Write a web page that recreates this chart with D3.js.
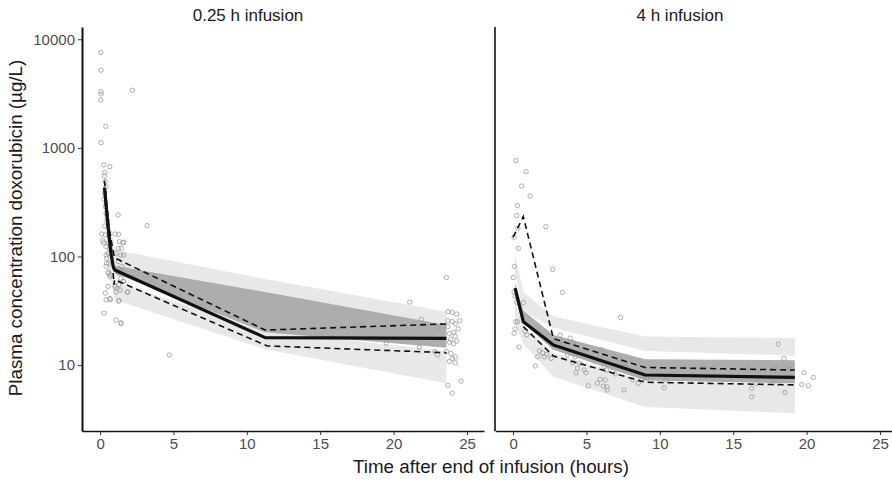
<!DOCTYPE html>
<html>
<head>
<meta charset="utf-8">
<script src="https://cdn.jsdelivr.net/npm/d3@7"></script>
<style>
  body { margin: 0; background: #fff; }
  svg { display: block; font-family: "Liberation Sans", Arial, Helvetica, sans-serif; }
</style>
</head>
<body>
<div id="chart"></div>
<script>
// Données (temps en h, concentration en µg/L)
const xTicks = [0, 5, 10, 15, 20, 25];
const yTicks = [10, 100, 1000, 10000];
const panelTitles = ["0.25 h infusion", "4 h infusion"];

// Perfusion 0.25 h : observations
const shortObs = [
  [0.05,7540],[0.07,5190],[0.06,3290],[0.07,3130],[0.05,2760],[2.2,3390],[0.39,1580],[0.07,1117],
  [0.25,697],[0.66,671],[0.32,592],[0.3,551],[0.36,489],[0.41,440],[0.32,387],[0.27,336],[0.36,288],
  [0.41,250],[0.48,217],[0.32,191],[0.36,158],[0.18,140],[0.41,123],[0.55,107],[0.45,96],[0.59,86.5],
  [0.55,72],[0.7,67.6],[1.23,241],[3.2,192],[1.27,160],[1.32,137],[1.61,135],[1.45,119],[1.61,103],
  [1.09,107],[1.38,72],[1.27,55],[1.61,59],[1.88,47],[0.55,53],[0.36,46],[0.41,40],[0.7,40],[1.27,39],
  [0.27,30],[1.09,26],[1.43,24.5],[0.11,161],[0.23,134],[0.57,132],[0.68,119],[0.8,111],[0.41,103],
  [0.45,87],[0.41,81],[0.57,70],[0.68,65],[1.02,161],[1.55,134],[1.25,119],[1.41,103],[1.25,90],
  [1.48,81],[1.27,70],[1.41,63],[1.59,59],[1.02,53],[1.14,51],[1.36,49],[1.09,47],[1.86,47],[0.68,41],
  [1.29,39],[1.41,24],[4.72,12.4],
  [23.6,64],[21.1,38],[23.7,31],[24.0,30.5],[24.3,29.5],[21.9,26.4],[17.7,23.4],[23.0,22.3],[23.7,25.6],
  [24.0,25.2],[24.5,25.6],[24.2,24],[23.7,22.6],[24.4,21.5],[24.1,20],[23.8,19.5],[24.2,18.5],[23.9,17.3],
  [24.3,16.6],[23.8,16.2],[24.1,15.7],[19.5,15.9],[21.75,14.6],[22.8,13.3],[23.0,12.4],[23.6,13.3],
  [23.9,12.8],[24.2,11.9],[24.0,11.5],[23.8,10.8],[24.2,10.5],[23.7,6.5],[24.6,7.1],[24.0,5.5]
];
// Perfusion 0.25 h : intervalles de prédiction par classe de temps
const shortBinTime = [0.3, 0.6, 1.0, 11.25, 23.6];
const shortUpperLo = [300, 110, 72, 24, 22];
const shortUpperHi = [650, 250, 115, 62, 31];
const shortMedLo   = [330, 140, 70, 20, 14.4];
const shortMedHi   = [450, 180, 82, 47, 23.4];
const shortLowerLo = [200, 70, 40, 14, 6.8];
const shortLowerHi = [280, 100, 58, 21, 13.3];
// Perfusion 0.25 h : percentiles observés
const shortMedTime = [0.3, 0.45, 0.6, 0.75, 0.9, 1.0, 11.25, 23.6];
const shortMedConc = [430, 260, 160, 105, 80, 75, 17.9, 17.6];
const shortP95Time = [0.3, 0.6, 0.9, 1.0, 11.25, 23.6];
const shortP95Conc = [500, 190, 110, 97, 21, 23.9];
const shortP05Time = [0.3, 0.6, 0.85, 0.95, 1.0, 10.9, 11.4, 23.6];
const shortP05Conc = [380, 140, 90, 55, 61, 16, 15, 13];

// Perfusion 4 h : observations
const longObs = [
  [0.18,762],[0.89,604],[0.59,445],[1.16,361],[0.3,294],[0.25,238],[2.23,188],[0.32,182],[0.07,150],
  [0.36,119],[2.7,76],[0.09,81],[0.02,64],[0.07,47],[3.36,46.8],[0.25,38],[0.14,43],[0.7,37.6],
  [7.33,27.4],[0.18,25],[0.3,25],[0.14,21.5],[0.07,19.6],[0.82,20.4],[0.93,19],[0.41,14.6],[1.52,9.8],
  [3.2,18.9],[3.88,17.7],[3.38,15.6],[4.11,16.1],[2.75,15.9],[1.8,13.5],[2.0,13],[2.3,12.6],[2.13,11.9],
  [1.68,11.9],[2.59,11.5],[3.7,12.4],[4.22,11.9],[4.07,10.5],[4.56,10.4],[4.38,9.35],[4.29,8.5],
  [4.84,9.0],[4.97,8.5],[6.04,13.8],[6.2,9.7],[6.38,9.0],[6.79,8.7],[6.95,8.3],[7.17,11.5],[7.51,10.4],
  [7.63,9.7],[5.93,7.4],[6.27,7.3],[5.74,6.8],[6.15,6.4],[6.38,6.3],[6.42,5.9],[5.13,6.45],[7.56,5.9],
  [8.15,7.3],[8.77,7.4],[9.1,7.55],[8.54,6.8],[10.29,6.2],[10.42,7.3],[12.97,9.5],[14.78,7.55],
  [16.03,9.1],[16.26,6.1],[16.26,5.1],[16.6,6.8],[18.07,15.6],[18.46,11.5],[17.85,9.4],[18.53,5.6],
  [18.87,9.1],[19.67,6.6],[19.82,8.5],[20.12,6.45],[20.46,7.7],[17.69,6.8]
];
const longBinTime = [0.14, 0.7, 2.75, 9.0, 19.2];
const longUpperLo = [70, 31, 22, 13.5, 12.2];
const longUpperHi = [103, 47, 28, 18.3, 17.7];
const longMedLo   = [42.7, 24.2, 13.8, 7.2, 6.8];
const longMedHi   = [57, 31.6, 18.9, 11.3, 11.1];
const longLowerLo = [24, 15.8, 7.8, 4.1, 3.6];
const longLowerHi = [38, 22.6, 13.0, 7.0, 6.8];
const longMedTime = [0.14, 0.7, 2.75, 9.0, 19.2];
const longMedConc = [51, 25, 15.3, 8.1, 7.7];
const longP95Time = [0.0, 0.7, 2.75, 9.0, 19.2];
const longP95Conc = [150, 233, 17.5, 9.5, 9.0];
const longP05Time = [0.7, 2.75, 9.0, 19.2];
const longP05Conc = [22.6, 12.1, 6.95, 6.56];

// Mise en page
const fullWidth = 892, fullHeight = 482;
const plotTop = 27, plotBottom = 431, panelWidth = 402;
const panelX = [82, 495];
const titleX = [248, 680];

const zip = (a, b) => a.map((v, i) => [v, b[i]]);
const band = (t, lo, hi) => t.map((v, i) => ({ t: v, lo: lo[i], hi: hi[i] }));

const panels = [
  {
    obs: shortObs,
    bands: [band(shortBinTime, shortUpperLo, shortUpperHi), band(shortBinTime, shortLowerLo, shortLowerHi)],
    medBand: band(shortBinTime, shortMedLo, shortMedHi),
    median: zip(shortMedTime, shortMedConc),
    p95: zip(shortP95Time, shortP95Conc),
    p05: zip(shortP05Time, shortP05Conc)
  },
  {
    obs: longObs,
    bands: [band(longBinTime, longUpperLo, longUpperHi), band(longBinTime, longLowerLo, longLowerHi)],
    medBand: band(longBinTime, longMedLo, longMedHi),
    median: zip(longMedTime, longMedConc),
    p95: zip(longP95Time, longP95Conc),
    p05: zip(longP05Time, longP05Conc)
  }
];

const svg = d3.select("#chart").append("svg")
  .attr("width", fullWidth)
  .attr("height", fullHeight);

const yScale = d3.scaleLog().domain([2.47, 12970]).range([plotBottom, plotTop]);

panels.forEach(function(p, i) {
  const x0 = panelX[i];
  const xScale = d3.scaleLinear().domain([-1.23, 26.16]).range([x0, x0 + panelWidth]);
  const g = svg.append("g");

  const area = d3.area()
    .x(d => xScale(d.t))
    .y0(d => yScale(d.lo))
    .y1(d => yScale(d.hi));

  p.bands.forEach(function(b) {
    g.append("path").datum(b).attr("d", area).attr("fill", "#e8e8e8");
  });
  g.append("path").datum(p.medBand).attr("d", area).attr("fill", "#adadad");

  g.selectAll("circle").data(p.obs).enter().append("circle")
    .attr("cx", d => xScale(d[0]))
    .attr("cy", d => yScale(d[1]))
    .attr("r", 2.2)
    .attr("fill", "none")
    .attr("stroke", "#9a9a9a")
    .attr("stroke-width", 0.8);

  const line = d3.line().x(d => xScale(d[0])).y(d => yScale(d[1]));
  [p.p95, p.p05].forEach(function(l) {
    g.append("path").datum(l).attr("d", line)
      .attr("fill", "none").attr("stroke", "#111")
      .attr("stroke-width", 1.6).attr("stroke-dasharray", "6,4");
  });
  g.append("path").datum(p.median).attr("d", line)
    .attr("fill", "none").attr("stroke", "#111")
    .attr("stroke-width", 3.2).attr("stroke-linejoin", "round");

  // Axe des x
  const xAxis = g.append("g")
    .attr("transform", "translate(0," + plotBottom + ")")
    .call(d3.axisBottom(xScale).tickValues(xTicks).tickSize(4).tickSizeOuter(0).tickPadding(3));
  xAxis.select(".domain").attr("stroke", "#111").attr("stroke-width", 1.6);
  xAxis.selectAll(".tick line").attr("stroke", "#333");
  xAxis.selectAll(".tick text").attr("fill", "#4d4d4d").style("font-size", "15px")
    .style("font-family", "Liberation Sans, Arial, sans-serif");

  // Axe des y
  if (i === 0) {
    const yAxis = g.append("g")
      .attr("transform", "translate(" + x0 + ",0)")
      .call(d3.axisLeft(yScale).tickValues(yTicks).tickFormat(d3.format("d")).tickSize(4).tickSizeOuter(0).tickPadding(3));
    yAxis.select(".domain").attr("stroke", "#111").attr("stroke-width", 2);
    yAxis.selectAll(".tick line").attr("stroke", "#333");
    yAxis.selectAll(".tick text").attr("fill", "#4d4d4d").style("font-size", "15px")
      .style("font-family", "Liberation Sans, Arial, sans-serif");
  } else {
    g.append("line")
      .attr("x1", x0).attr("x2", x0).attr("y1", plotTop).attr("y2", plotBottom)
      .attr("stroke", "#111").attr("stroke-width", 1.6);
  }

  svg.append("text")
    .attr("x", titleX[i]).attr("y", 21)
    .attr("text-anchor", "middle")
    .style("font-size", "17px").attr("fill", "#1a1a1a")
    .text(panelTitles[i]);
});

svg.append("text")
  .attr("x", 491).attr("y", 473)
  .attr("text-anchor", "middle")
  .style("font-size", "18.8px").attr("fill", "#1a1a1a")
  .text("Time after end of infusion (hours)");

svg.append("text")
  .attr("transform", "translate(22,228) rotate(-90)")
  .attr("text-anchor", "middle")
  .style("font-size", "18.8px").attr("fill", "#1a1a1a")
  .text("Plasma concentration doxorubicin (µg/L)");
</script>
</body>
</html>
